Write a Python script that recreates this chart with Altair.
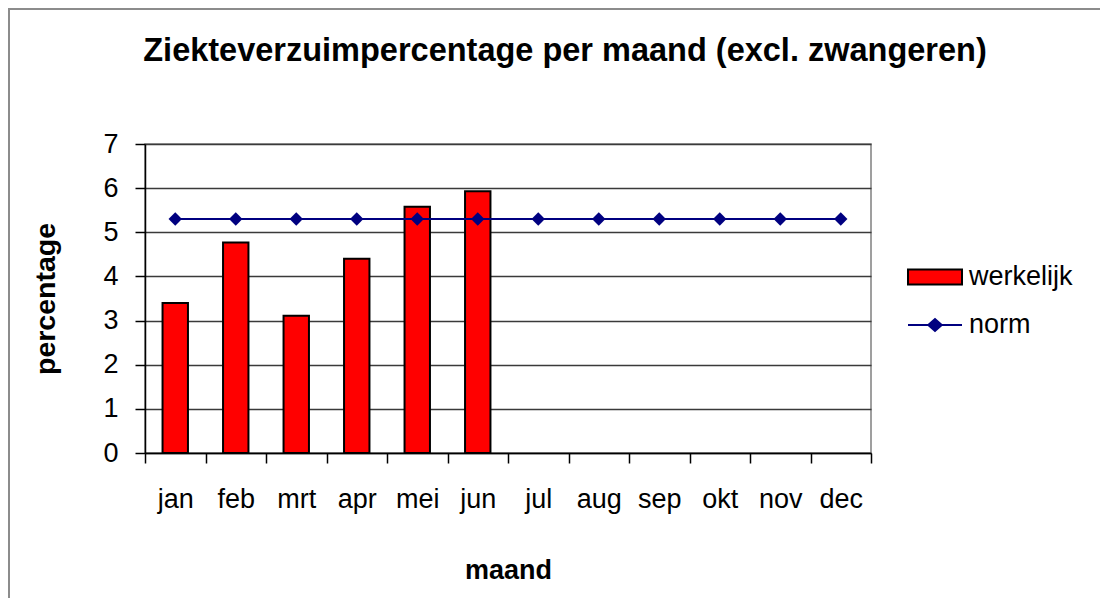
import altair as alt
import pandas as pd

# ---- data ----
months = ["jan", "feb", "mrt", "apr", "mei", "jun", "jul", "aug", "sep", "okt", "nov", "dec"]
werkelijk = [3.40, 4.77, 3.11, 4.40, 5.58, 5.93, None, None, None, None, None, None]
norm = [5.3, 5.3, 5.3, 5.3, 5.3, 5.3, 5.3, 5.3, 5.3, 5.3, 5.3, 5.3]
series_names = ["werkelijk", "norm"]
y_ticks = [0, 1, 2, 3, 4, 5, 6, 7]

rows = []
for m, w, n in zip(months, werkelijk, norm):
    rows.append({"maand": m, "reeks": "werkelijk", "waarde": w})
    rows.append({"maand": m, "reeks": "norm", "waarde": n})
df = pd.DataFrame(rows)

FONT = "Liberation Sans"
W, H = 726, 309
PAD_L, PAD_T = 137, 136
PAD_R, PAD_B = 1092 - PAD_L - W, 590 - PAD_T - H

RECT_PATH = "M-2,-0.5556H2V0.5556H-2Z"
NORM_PATH = "M-2,0H2M-0.5,0L0,-0.44L0.5,0L0,0.44Z"

fill_scale = alt.Scale(domain=series_names, range=["#FF0000", "#000080"])
stroke_scale = alt.Scale(domain=series_names, range=["#000000", "#000080"])
shape_scale = alt.Scale(domain=series_names, range=[RECT_PATH, NORM_PATH])

legend = alt.Legend(
    title=None, orient="none", legendX=775.5, legendY=118.5, padding=0,
    symbolSize=729, symbolStrokeWidth=2, labelFontSize=27, labelFont=FONT,
    labelColor="#000000", labelOffset=19.5, rowPadding=20, direction="vertical",
)

x_enc = alt.X(
    "maand:N", sort=months,
    scale=alt.Scale(domain=months, paddingInner=0, paddingOuter=0),
    axis=alt.Axis(
        title="maand", labelAngle=0, tickBand="extent", tickSize=10,
        tickColor="#000000", tickWidth=1.5, domainColor="#000000", domainWidth=1.5,
        labelFontSize=27, labelFont=FONT, labelColor="#000000", labelPadding=23,
        titleFontSize=27, titleFont=FONT, titleFontWeight="bold", titleColor="#000000",
        titleY=125, titleBaseline="alphabetic", grid=False,
    ),
)
y_enc = alt.Y(
    "waarde:Q",
    scale=alt.Scale(domain=[0, 7], nice=False),
    axis=alt.Axis(
        title="percentage", values=y_ticks, format="d", tickSize=10,
        tickColor="#000000", tickWidth=1.5, domainColor="#000000", domainWidth=1.5,
        labelFontSize=27, labelFont=FONT, labelColor="#000000", labelPadding=17,
        titleFontSize=28.5, titleFont=FONT, titleFontWeight="bold", titleColor="#000000",
        titleX=-91, titleBaseline="alphabetic", titleAngle=270,
        grid=True, gridColor="#3a3a3a", gridWidth=1.3,
    ),
)

base = alt.Chart(df)

bars = base.transform_filter(alt.datum.reeks == "werkelijk").mark_bar(
    width=alt.RelativeBandSize(0.42), strokeWidth=2
).encode(
    x=x_enc, y=y_enc,
    fill=alt.Fill("reeks:N", scale=fill_scale, legend=legend),
    stroke=alt.Stroke("reeks:N", scale=stroke_scale, legend=legend),
)

line = base.transform_filter(alt.datum.reeks == "norm").mark_line(
    color="#000080", strokeWidth=2
).encode(x=x_enc, y=y_enc)

points = base.transform_filter(alt.datum.reeks == "norm").mark_point(
    shape="diamond", filled=True, color="#000080", size=180, opacity=1
).encode(x=x_enc, y=y_enc)

legend_layer = base.transform_filter("false").mark_point(
    filled=True, strokeWidth=2, opacity=1
).encode(
    x=x_enc, y=y_enc,
    fill=alt.Fill("reeks:N", scale=fill_scale, legend=legend),
    stroke=alt.Stroke("reeks:N", scale=stroke_scale, legend=legend),
    shape=alt.Shape("reeks:N", scale=shape_scale, legend=legend),
)

frame_df = pd.DataFrame({"k": [0]})
frame_top = alt.Chart(frame_df).mark_rule(color="#8c8c8c", strokeWidth=2).encode(
    x=alt.value(-PAD_L), x2=alt.value(W + PAD_R), y=alt.value(-PAD_T + 1)
)
frame_left = alt.Chart(frame_df).mark_rule(color="#8c8c8c", strokeWidth=2).encode(
    x=alt.value(-PAD_L + 1), y=alt.value(-PAD_T), y2=alt.value(H + PAD_B)
)

chart = alt.layer(bars, line, points, legend_layer, frame_top, frame_left).properties(
    width=W, height=H,
    title=alt.TitleParams(
        "Ziekteverzuimpercentage per maand (excl. zwangeren)",
        fontSize=32.5, font=FONT, fontWeight="bold", color="#000000",
        anchor="middle", dx=57, offset=0, dy=60,
    ),
    autosize=alt.AutoSizeParams(type="none"),
    padding={"left": PAD_L, "top": PAD_T, "right": PAD_R, "bottom": PAD_B},
).configure(font=FONT, background="#ffffff").configure_view(
    stroke="#808080", strokeWidth=1.5
)

chart.save("out.html", embed_options={"renderer": "svg", "actions": False})
